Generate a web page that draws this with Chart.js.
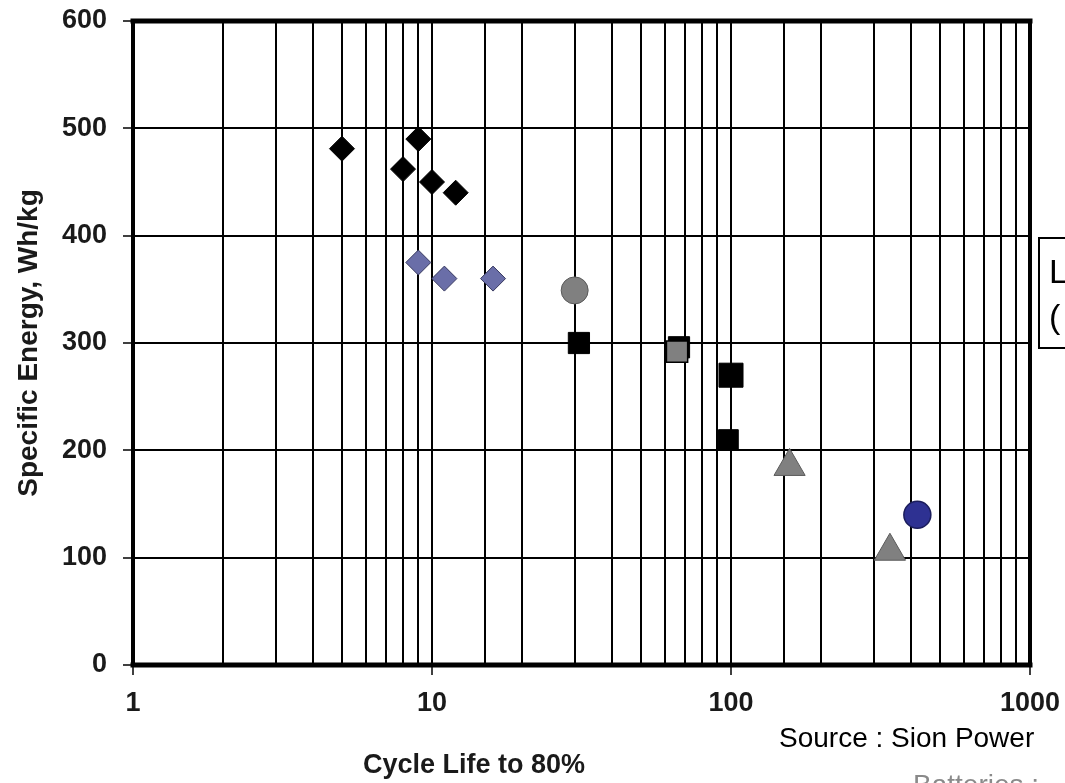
<!DOCTYPE html>
<html>
<head>
<meta charset="utf-8">
<script src="https://cdn.jsdelivr.net/npm/chart.js@4.4.0/dist/chart.umd.min.js"></script>
<style>
    html, body { margin: 0; padding: 0; background: #fff; }
    #wrap { width: 1065px; height: 783px; }
</style>
</head>
<body>
<div id="wrap"><canvas id="cycleChart" width="1065" height="783"></canvas></div>
<script>
// Datos (eje X logarítmico)
const xMin = 1;
const xMax = 1000;
const yTickValues = [0, 100, 200, 300, 400, 500, 600];

const blackDiamondX = [5, 8, 9, 10, 12];
const blackDiamondY = [481, 462, 490, 450, 440];

const slateDiamondX = [9, 11, 16];
const slateDiamondY = [375, 360, 360];

const grayCircleX = [30];
const grayCircleY = [349];

const blackSquareX = [31, 67, 100, 98];
const blackSquareY = [300, 296, 270, 210];

const graySquareX = [66];
const graySquareY = [292];

const grayTriangleX = [157, 340];
const grayTriangleY = [185, 106];

const blueCircleX = [420];
const blueCircleY = [140];

const FONT = "'Liberation Sans', Arial, sans-serif";

function toPoints(xs, ys) {
    return xs.map(function(x, i) { return { x: x, y: ys[i] }; });
}

function isDecade(value) {
    const l = Math.log10(value);
    return Math.abs(l - Math.round(l)) < 1e-9;
}

// Marco grueso y textos sueltos
const framePlugin = {
    id: 'frameAndNotes',
    afterDraw: function(chart) {
        const ctx = chart.ctx;
        const a = chart.chartArea;
        ctx.save();
        ctx.strokeStyle = '#000';
        ctx.lineCap = 'square';
        // top / bottom
        ctx.lineWidth = 5;
        ctx.beginPath(); ctx.moveTo(a.left, a.top); ctx.lineTo(a.right, a.top); ctx.stroke();
        ctx.beginPath(); ctx.moveTo(a.left, a.bottom); ctx.lineTo(a.right, a.bottom); ctx.stroke();
        // left / right
        ctx.lineWidth = 4;
        ctx.beginPath(); ctx.moveTo(a.left, a.top); ctx.lineTo(a.left, a.bottom); ctx.stroke();
        ctx.beginPath(); ctx.moveTo(a.right, a.top); ctx.lineTo(a.right, a.bottom); ctx.stroke();

        // x axis title
        ctx.fillStyle = '#1a1a1a';
        ctx.font = 'bold 27px ' + FONT;
        ctx.textAlign = 'center';
        ctx.textBaseline = 'middle';
        ctx.fillText('Cycle Life to 80%', 474, 766);

        // source
        ctx.fillStyle = '#000';
        ctx.font = '28px ' + FONT;
        ctx.textAlign = 'left';
        ctx.textBaseline = 'alphabetic';
        ctx.fillText('Source : Sion Power', 779, 747);

        // clipped text box on the right
        ctx.lineWidth = 2;
        ctx.strokeRect(1039, 238, 100, 110);
        ctx.font = '34px ' + FONT;
        ctx.fillText('L', 1049, 283);
        ctx.fillText('(', 1049, 328);

        // footer (cut at the bottom)
        ctx.fillStyle = '#8a8a8a';
        ctx.font = '28px ' + FONT;
        ctx.fillText('Batteries :', 913, 794);
        ctx.restore();
    }
};

document.addEventListener('DOMContentLoaded', function() {
    const ctx = document.getElementById('cycleChart');

    new Chart(ctx, {
        type: 'scatter',
        data: {
            datasets: [
                {
                    label: 'Black diamonds',
                    data: toPoints(blackDiamondX, blackDiamondY),
                    pointStyle: 'rectRot',
                    pointRadius: 12.5,
                    backgroundColor: '#000',
                    borderColor: '#000',
                    borderWidth: 1,
                    order: 1
                },
                {
                    label: 'Slate diamonds',
                    data: toPoints(slateDiamondX, slateDiamondY),
                    pointStyle: 'rectRot',
                    pointRadius: 12.5,
                    backgroundColor: '#6a6ea8',
                    borderColor: '#35375e',
                    borderWidth: 1,
                    order: 1
                },
                {
                    label: 'Gray circle',
                    data: toPoints(grayCircleX, grayCircleY),
                    pointStyle: 'circle',
                    pointRadius: 13.5,
                    backgroundColor: '#808080',
                    borderColor: '#5a5a5a',
                    borderWidth: 1,
                    order: 1
                },
                {
                    label: 'Black squares',
                    data: toPoints(blackSquareX, blackSquareY),
                    pointStyle: 'rect',
                    pointRadius: [15, 15, 17, 14],
                    backgroundColor: '#000',
                    borderColor: '#000',
                    borderWidth: 1,
                    order: 2
                },
                {
                    label: 'Gray square',
                    data: toPoints(graySquareX, graySquareY),
                    pointStyle: 'rect',
                    pointRadius: 15,
                    backgroundColor: '#808080',
                    borderColor: '#000',
                    borderWidth: 1.5,
                    order: 0
                },
                {
                    label: 'Gray triangles',
                    data: toPoints(grayTriangleX, grayTriangleY),
                    pointStyle: 'triangle',
                    pointRadius: 18,
                    backgroundColor: '#808080',
                    borderColor: '#5a5a5a',
                    borderWidth: 1,
                    order: 1
                },
                {
                    label: 'Blue circle',
                    data: toPoints(blueCircleX, blueCircleY),
                    pointStyle: 'circle',
                    pointRadius: 13.5,
                    backgroundColor: '#2e3192',
                    borderColor: '#1b1d5c',
                    borderWidth: 1.5,
                    order: 1
                }
            ]
        },
        options: {
            responsive: false,
            animation: false,
            layout: {
                padding: { top: 21, right: 35, bottom: 0, left: 0 }
            },
            plugins: {
                legend: { display: false },
                tooltip: { enabled: false }
            },
            scales: {
                x: {
                    type: 'logarithmic',
                    min: xMin,
                    max: xMax,
                    afterFit: function(scale) {
                        scale.height = 118;
                        scale.paddingLeft = 0;
                        scale.paddingRight = 0;
                    },
                    border: { display: false },
                    grid: {
                        color: '#000',
                        lineWidth: 2,
                        drawTicks: true,
                        tickLength: 10,
                        tickColor: function(c) {
                            return c.tick && isDecade(c.tick.value) ? '#000' : 'rgba(0,0,0,0)';
                        },
                        tickWidth: 1.5
                    },
                    ticks: {
                        autoSkip: false,
                        maxRotation: 0,
                        padding: 12,
                        color: '#1a1a1a',
                        font: { family: FONT, size: 27, weight: 'bold' },
                        callback: function(value) {
                            return isDecade(value) ? String(value) : '';
                        }
                    }
                },
                y: {
                    min: 0,
                    max: 600,
                    afterFit: function(scale) {
                        scale.width = 133;
                        scale.paddingTop = 0;
                        scale.paddingBottom = 0;
                    },
                    afterBuildTicks: function(scale) {
                        scale.ticks = yTickValues.map(function(v) { return { value: v }; });
                    },
                    border: { display: false },
                    grid: {
                        color: '#000',
                        lineWidth: 2,
                        tickLength: 10,
                        tickColor: '#000',
                        tickWidth: 1.5
                    },
                    ticks: {
                        padding: 16,
                        color: '#1a1a1a',
                        font: { family: FONT, size: 27, weight: 'bold' }
                    },
                    title: {
                        display: true,
                        text: 'Specific Energy, Wh/kg',
                        color: '#1a1a1a',
                        font: { family: FONT, size: 28, weight: 'bold' },
                        padding: { top: 12, bottom: 0 }
                    }
                }
            }
        },
        plugins: [framePlugin]
    });
});
</script>
</body>
</html>
